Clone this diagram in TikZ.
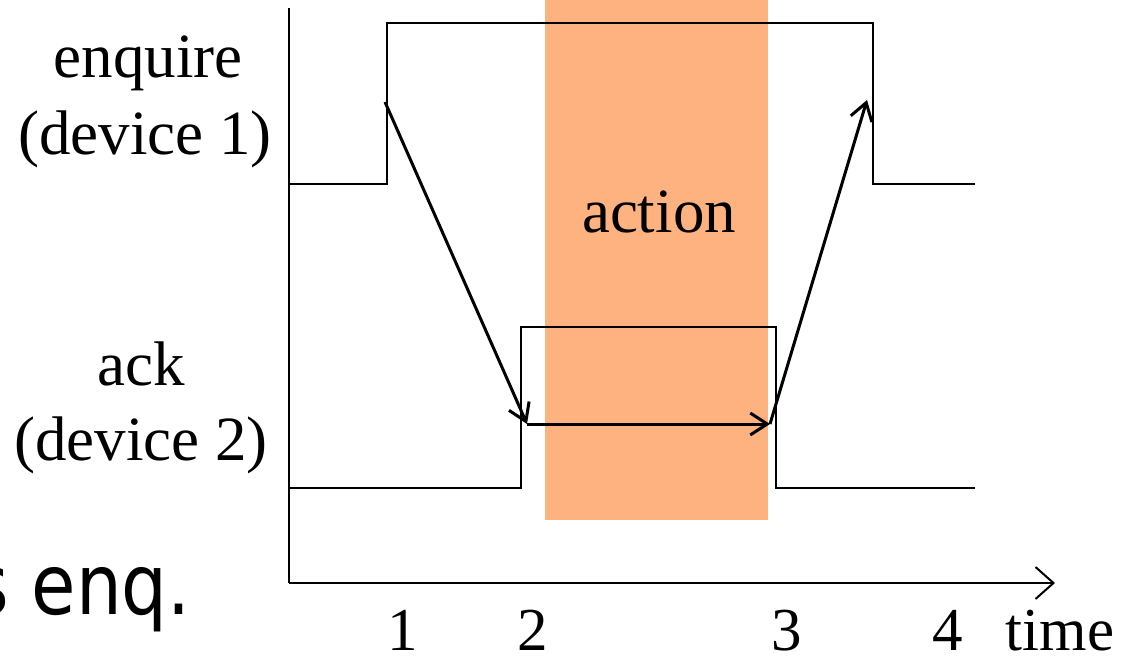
\documentclass[tikz,border=0pt]{standalone}
\usepackage{fontspec}
\setmainfont{Liberation Serif}
\newfontfamily\sansf[FakeStretch=0.86]{DejaVu Sans}
\usetikzlibrary{arrows.meta}
\definecolor{actionorange}{RGB}{253,178,128}
\tikzset{
  sig/.style={line width=2.5pt},
  axis/.style={line width=2pt},
  flow/.style={line width=3pt,-{Straight Barb[length=17pt,width=22pt,line width=3pt]}},
  lbl/.style={font=\fontsize{63}{70}\selectfont, inner sep=0pt, anchor=base},
  ticklbl/.style={font=\fontsize{61}{66}\selectfont, inner sep=0pt, anchor=base},
}
\begin{document}
\begin{tikzpicture}[x=1pt,y=-1pt]
\useasboundingbox (0,0) rectangle (1124,658);
\clip (0,0) rectangle (1124,658);
% action band
\fill[actionorange] (545,0) rectangle (768,520);
\node[lbl] (action) at (659,232) {action};
% axes
\coordinate (o) at (289,583);
\coordinate (ytop) at (289,8);
\coordinate (xend) at (1055,583);
\draw[axis] (ytop) -- (o);
\draw[axis,-{Straight Barb[length=18pt,width=32pt,line width=2pt]}] (o) -- (xend);
% enquire signal
\coordinate (e0) at (289,184);
\coordinate (e1) at (387,184);
\coordinate (e2) at (387,23);
\coordinate (e3) at (873,23);
\coordinate (e4) at (873,184);
\coordinate (e5) at (975,184);
\draw[sig] (e0) -- (e1) -- (e2) -- (e3) -- (e4) -- (e5);
% ack signal
\coordinate (a0) at (289,488);
\coordinate (a1) at (521,488);
\coordinate (a2) at (521,327);
\coordinate (a3) at (776,327);
\coordinate (a4) at (776,488);
\coordinate (a5) at (975,488);
\draw[sig] (a0) -- (a1) -- (a2) -- (a3) -- (a4) -- (a5);
% flow arrows
\coordinate (p1) at (385,102);
\coordinate (p2) at (527,424);
\coordinate (p3) at (770,424);
\coordinate (p4) at (867,100);
\draw[flow] (p1) -- (p2);
\draw[flow] (p2) -- (p3);
\draw[flow] (p3) -- (p4);
% labels
\node[lbl] (enq) at (148,78) {enquire};
\node[lbl] (dev1) at (145,154) {(device 1)};
\node[lbl] (ack) at (141,385) {ack};
\node[lbl] (dev2) at (141,460) {(device 2)};
\node[ticklbl] (t1) at (403,650) {1};
\node[ticklbl] (t2) at (533,650) {2};
\node[ticklbl] (t3) at (787,650) {3};
\node[ticklbl] (t4) at (948,650) {4};
\node[ticklbl] (time) at (1060,650) {time};
\node[font=\sansf\fontsize{84}{86}\selectfont, inner sep=0pt, anchor=base east] (senq) at (191,614) {s enq.};
\end{tikzpicture}
\end{document}
